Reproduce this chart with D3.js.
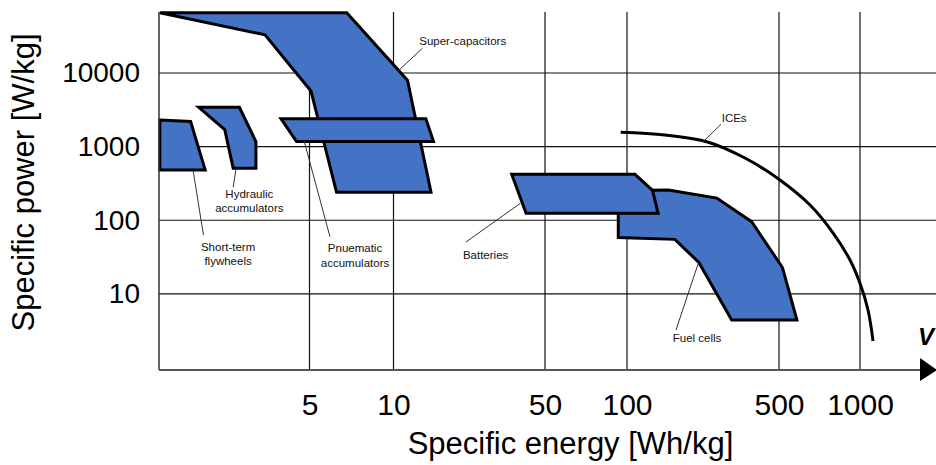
<!DOCTYPE html>
<html>
<head>
<meta charset="utf-8">
<script src="https://cdn.jsdelivr.net/npm/d3@7"></script>
<style>
  body { margin: 0; background: #fff; }
  svg { display: block; font-family: "Liberation Sans", Arial, sans-serif; }
</style>
</head>
<body>
<div id="chart"></div>
<script>
// tick values
const xTicks = [5, 10, 50, 100, 500, 1000];
const yTicks = [10, 100, 1000, 10000];

// regions, [specific energy Wh/kg, specific power W/kg]
const superCapacitors = [[1.45, 66000], [6.8, 66000], [11.6, 8000], [14.9, 240], [6.25, 240], [5.06, 5700], [3.46, 33000]];
const pneumatic = [[3.95, 2400], [14.1, 2400], [15.3, 1170], [4.49, 1170]];
const flywheels = [[1.45, 2300], [1.87, 2200], [2.11, 480], [1.45, 480]];
const hydraulic = [[2.0, 3420], [2.8, 3420], [3.21, 1170], [3.21, 510], [2.66, 510], [2.48, 1700]];
const fuelCells = [[92.9, 190], [127, 255], [155, 258], [259, 200], [374, 95.6], [515, 22.8], [583, 4.42], [303, 4.42], [214, 26.7], [166, 55], [92.9, 58.3]];
const batteries = [[35.1, 420], [108.8, 420], [131, 255], [139, 124], [40.9, 124]];
const ices = [[94.8, 1565], [149.5, 1438], [232.5, 1167], [348.8, 700], [504, 352], [652, 161], [796, 66.5], [918, 28.8], [1000, 13.9], [1071, 6.04], [1118, 2.29]];

// labels: lines of text, anchor point, leader line [from, to]
const labels = [
  { lines: ["Super-capacitors"], at: [13.15, 27460], anchor: "start", leader: [[10.7, 11230], [13.6, 21650]] },
  { lines: ["ICEs"], at: [272.6, 2425], anchor: "start", leader: [[224, 1167], [270.6, 2011]] },
  { lines: ["Hydraulic", "accumulators"], at: [3.04, 227], anchor: "middle", leader: [[2.72, 492], [2.66, 280]] },
  { lines: ["Short-term", "flywheels"], at: [2.55, 43.7], anchor: "middle", leader: [[1.91, 471], [2.08, 63]] },
  { lines: ["Pnuematic", "accumulators"], at: [7.28, 41.6], anchor: "middle", leader: [[4.78, 1203], [5.92, 59.8]] },
  { lines: ["Batteries"], at: [26.6, 33.4], anchor: "middle", leader: [[38.5, 170], [21.6, 50.7]] },
  { lines: ["Fuel cells"], at: [210, 2.49], anchor: "middle", leader: [[212.7, 26], [168, 3.23]] }
];

const width = 936;
const height = 465;
const plotLeft = 159;
const plotTop = 12;
const plotBottom = 370;
const arrowEnd = 920;

// the x axis of the source is schematic, so the log scale is piecewise
const x = d3.scaleLog()
  .domain([1.44, 5, 10, 50, 100, 500, 1000, 2000])
  .range([159, 309.5, 393.5, 545, 627, 779, 860, 941]);

const y = d3.scaleLog()
  .domain([1, 10000])
  .range([367.5, 73]);

const svg = d3.select("#chart")
  .append("svg")
  .attr("width", width)
  .attr("height", height)
  .attr("viewBox", [0, 0, width, height]);

// grid
svg.append("g")
  .selectAll("line")
  .data(xTicks)
  .join("line")
  .attr("x1", d => x(d)).attr("x2", d => x(d))
  .attr("y1", plotTop).attr("y2", plotBottom)
  .attr("stroke", "#111")
  .attr("stroke-width", 1.2);

svg.append("g")
  .selectAll("line")
  .data(yTicks)
  .join("line")
  .attr("x1", plotLeft).attr("x2", width)
  .attr("y1", d => y(d)).attr("y2", d => y(d))
  .attr("stroke", "#111")
  .attr("stroke-width", 1.2);

// regions
const area = d3.line().x(d => x(d[0])).y(d => y(d[1]));
const regions = [superCapacitors, pneumatic, flywheels, hydraulic, fuelCells, batteries];

svg.append("g")
  .selectAll("path")
  .data(regions)
  .join("path")
  .attr("d", d => area(d) + "Z")
  .attr("fill", "#4472c4")
  .attr("stroke", "#000")
  .attr("stroke-width", 3)
  .attr("stroke-linejoin", "miter");

// ICE curve
svg.append("path")
  .attr("d", d3.line().x(d => x(d[0])).y(d => y(d[1])).curve(d3.curveCatmullRom.alpha(0.5))(ices))
  .attr("fill", "none")
  .attr("stroke", "#000")
  .attr("stroke-width", 3);

// leaders and labels
svg.append("g")
  .selectAll("line")
  .data(labels)
  .join("line")
  .attr("x1", d => x(d.leader[0][0])).attr("y1", d => y(d.leader[0][1]))
  .attr("x2", d => x(d.leader[1][0])).attr("y2", d => y(d.leader[1][1]))
  .attr("stroke", "#333")
  .attr("stroke-width", 1);

const lab = svg.append("g")
  .attr("font-size", 11.5)
  .attr("fill", "#111")
  .selectAll("text")
  .data(labels)
  .join("text")
  .attr("text-anchor", d => d.anchor)
  .attr("x", d => x(d.at[0]))
  .attr("y", d => y(d.at[1]));

lab.selectAll("tspan")
  .data(d => d.lines.map(t => ({ t, d })))
  .join("tspan")
  .attr("x", o => x(o.d.at[0]))
  .attr("dy", (o, i) => i === 0 ? "0.35em" : "1.25em")
  .text(o => o.t);

// axes
svg.append("line")
  .attr("x1", plotLeft).attr("x2", plotLeft)
  .attr("y1", plotTop).attr("y2", plotBottom)
  .attr("stroke", "#333")
  .attr("stroke-width", 1.5);

svg.append("line")
  .attr("x1", plotLeft).attr("x2", arrowEnd)
  .attr("y1", plotBottom).attr("y2", plotBottom)
  .attr("stroke", "#555")
  .attr("stroke-width", 2);

svg.append("path")
  .attr("d", `M${arrowEnd},${plotBottom - 12}L${arrowEnd + 17},${plotBottom}L${arrowEnd},${plotBottom + 11}Z`)
  .attr("fill", "#000");

svg.append("text")
  .attr("x", arrowEnd + 6)
  .attr("y", plotBottom - 25)
  .attr("text-anchor", "middle")
  .attr("font-size", 24)
  .attr("font-weight", "bold")
  .attr("font-style", "italic")
  .text("V");

const xAxis = svg.append("g")
  .attr("transform", `translate(0,${plotBottom})`)
  .call(d3.axisBottom(x).tickValues(xTicks).tickFormat(d3.format("d")).tickSize(0).tickPadding(23.5));
xAxis.select(".domain").remove();
xAxis.selectAll("text")
  .attr("font-size", 30)
  .attr("font-family", "Liberation Sans, Arial, sans-serif")
  .attr("fill", "#000");

const yAxis = svg.append("g")
  .attr("transform", `translate(${plotLeft},0)`)
  .call(d3.axisLeft(y).tickValues(yTicks).tickFormat(d3.format("d")).tickSize(0).tickPadding(19));
yAxis.select(".domain").remove();
yAxis.selectAll("text")
  .attr("font-size", 28)
  .attr("font-family", "Liberation Sans, Arial, sans-serif")
  .attr("fill", "#000");

svg.append("text")
  .attr("x", 570.5)
  .attr("y", 454)
  .attr("text-anchor", "middle")
  .attr("font-size", 31)
  .text("Specific energy [Wh/kg]");

svg.append("text")
  .attr("transform", "translate(34,182.5) rotate(-90)")
  .attr("text-anchor", "middle")
  .attr("font-size", 31)
  .text("Specific power [W/kg]");
</script>
</body>
</html>
